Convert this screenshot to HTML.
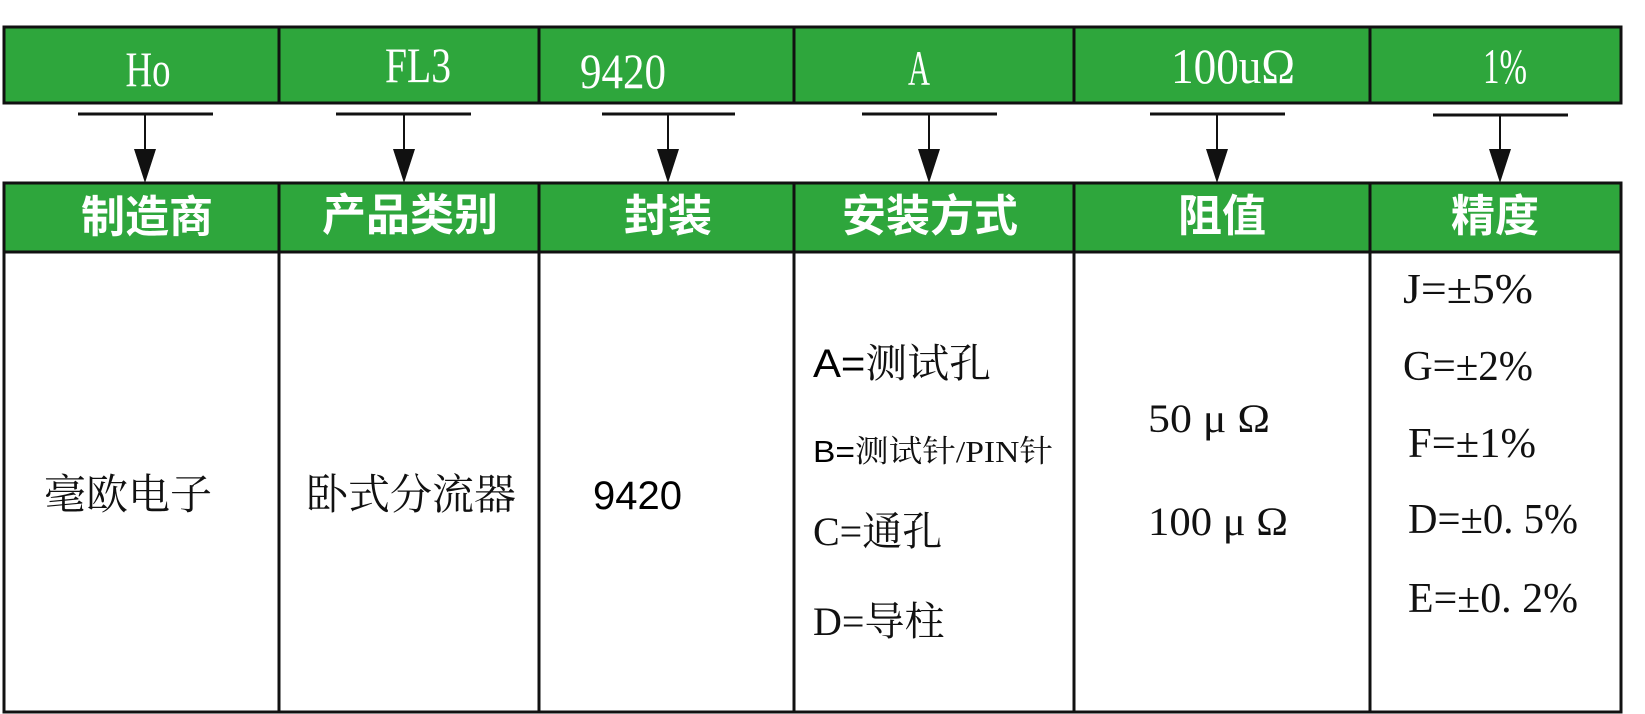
<!DOCTYPE html>
<html><head><meta charset="utf-8"><style>
html,body{margin:0;padding:0;background:#fff;}
svg{display:block;}
.hw{font-family:"Liberation Serif","Noto Serif CJK SC",serif;fill:#fff;font-size:50px;}
.hc{font-family:"Liberation Sans","Noto Sans CJK SC",sans-serif;fill:#fff;font-size:44px;font-weight:bold;}
.bs{font-family:"Liberation Serif","Noto Serif CJK SC",serif;fill:#111;}
.bn{font-family:"Liberation Sans","Noto Sans CJK SC",sans-serif;fill:#000;}
</style></head><body>
<svg width="1645" height="714" viewBox="0 0 1645 714" xmlns="http://www.w3.org/2000/svg">
<rect x="4" y="27" width="1617" height="76" fill="#2ea63c"/>
<rect x="4" y="183" width="1617" height="69" fill="#2ea63c"/>
<g stroke="#111" stroke-width="3" fill="none">
<rect x="4" y="27" width="1617" height="76"/>
<rect x="4" y="183" width="1617" height="529"/>
<line x1="4" y1="252" x2="1621" y2="252"/>
<line x1="279" y1="27" x2="279" y2="103"/><line x1="539" y1="27" x2="539" y2="103"/>
<line x1="794" y1="27" x2="794" y2="103"/><line x1="1074" y1="27" x2="1074" y2="103"/>
<line x1="1370" y1="27" x2="1370" y2="103"/>
<line x1="279" y1="183" x2="279" y2="712"/><line x1="539" y1="183" x2="539" y2="712"/>
<line x1="794" y1="183" x2="794" y2="712"/><line x1="1074" y1="183" x2="1074" y2="712"/>
<line x1="1370" y1="183" x2="1370" y2="712"/>
</g>
<g stroke="#111" stroke-width="3">
<line x1="78" y1="114" x2="213" y2="114"/><line x1="336" y1="114" x2="471" y2="114"/>
<line x1="602" y1="114" x2="735" y2="114"/><line x1="862" y1="114" x2="997" y2="114"/>
<line x1="1150" y1="114" x2="1285" y2="114"/><line x1="1433" y1="115" x2="1568" y2="115"/>
</g>
<g stroke="#111" stroke-width="2">
<line x1="145" y1="115" x2="145" y2="155"/><line x1="404" y1="115" x2="404" y2="155"/>
<line x1="668" y1="115" x2="668" y2="155"/><line x1="929" y1="115" x2="929" y2="155"/>
<line x1="1217" y1="115" x2="1217" y2="155"/><line x1="1500" y1="116" x2="1500" y2="155"/>
</g>
<g fill="#111">
<polygon points="134,149 156,149 145,183"/><polygon points="393,149 415,149 404,183"/>
<polygon points="657,149 679,149 668,183"/><polygon points="918,149 940,149 929,183"/>
<polygon points="1206,149 1228,149 1217,183"/><polygon points="1489,149 1511,149 1500,183"/>
</g>
<text class="hw" x="148" y="86" text-anchor="middle" textLength="45" lengthAdjust="spacingAndGlyphs">Ho</text>
<text class="hw" x="418" y="82" text-anchor="middle" textLength="66" lengthAdjust="spacingAndGlyphs">FL3</text>
<text class="hw" x="623" y="88" text-anchor="middle" textLength="86" lengthAdjust="spacingAndGlyphs">9420</text>
<text class="hw" x="919" y="85" text-anchor="middle" textLength="22" lengthAdjust="spacingAndGlyphs">A</text>
<text class="hw" x="1233" y="83" text-anchor="middle" textLength="124" lengthAdjust="spacingAndGlyphs">100uΩ</text>
<text class="hw" x="1505" y="83" text-anchor="middle" textLength="44" lengthAdjust="spacingAndGlyphs">1%</text>
<text class="hc" x="147" y="232" text-anchor="middle">制造商</text>
<text class="hc" x="410" y="230" text-anchor="middle">产品类别</text>
<text class="hc" x="668" y="231" text-anchor="middle">封装</text>
<text class="hc" x="930" y="231" text-anchor="middle">安装方式</text>
<text class="hc" x="1222" y="231" text-anchor="middle">阻值</text>
<text class="hc" x="1495" y="231" text-anchor="middle">精度</text>
<text class="bs" x="44" y="509" font-size="42">毫欧电子</text>
<text class="bs" x="306" y="509" font-size="42">卧式分流器</text>
<text class="bn" x="593" y="509" font-size="40">9420</text>
<text x="813" y="377" font-size="40" textLength="178" lengthAdjust="spacingAndGlyphs"><tspan class="bn">A=</tspan><tspan class="bs">测试孔</tspan></text>
<text x="813" y="462" font-size="31" textLength="240" lengthAdjust="spacingAndGlyphs"><tspan class="bn">B=</tspan><tspan class="bs">测试针/PIN针</tspan></text>
<text class="bs" x="813" y="545" font-size="40">C=通孔</text>
<text class="bs" x="813" y="635" font-size="40">D=导柱</text>
<text class="bs" x="1148" y="432" font-size="40" textLength="122" lengthAdjust="spacingAndGlyphs">50 μ Ω</text>
<text class="bs" x="1148" y="535" font-size="40" textLength="140" lengthAdjust="spacingAndGlyphs">100 μ Ω</text>
<text class="bs" x="1403" y="303" font-size="42" textLength="130" lengthAdjust="spacingAndGlyphs">J=±5%</text>
<text class="bs" x="1403" y="380" font-size="42" textLength="130" lengthAdjust="spacingAndGlyphs">G=±2%</text>
<text class="bs" x="1408" y="457" font-size="42" textLength="128" lengthAdjust="spacingAndGlyphs">F=±1%</text>
<text class="bs" x="1408" y="533" font-size="42" textLength="170" lengthAdjust="spacingAndGlyphs">D=±0. 5%</text>
<text class="bs" x="1408" y="612" font-size="42" textLength="170" lengthAdjust="spacingAndGlyphs">E=±0. 2%</text>
</svg>
</body></html>
